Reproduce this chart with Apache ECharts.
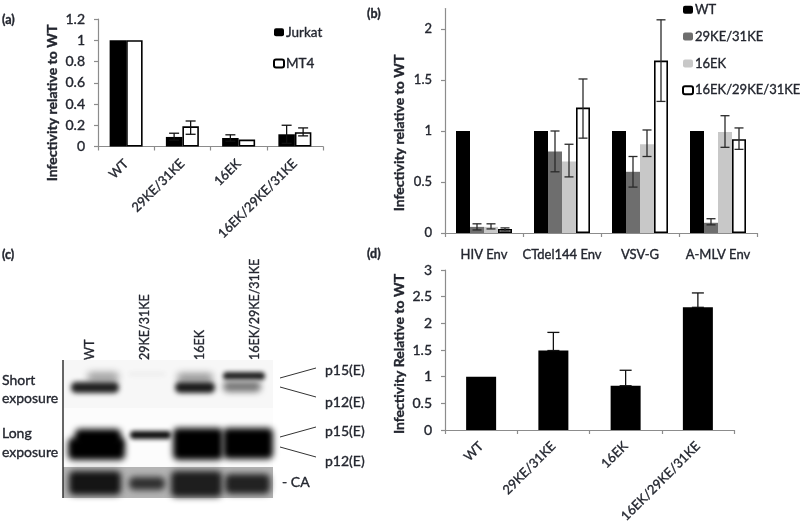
<!DOCTYPE html>
<html><head><meta charset="utf-8">
<style>html,body{margin:0;padding:0;background:#fff}#c{width:800px;height:524px;filter:blur(0.35px)}</style>
<script src="https://cdn.jsdelivr.net/npm/echarts@6/dist/echarts.min.js"></script>
</head><body><div id="c"></div>
<script>
const catsA = ['WT','29KE/31KE','16EK','16EK/29KE/31KE'];
const jurkat = [1,0.09,0.08,0.115];
const jurkatErr = [null,[0.06,0.125],[0.05,0.11],[0.03,0.2]];
const mt4 = [1,0.19,0.065,0.135];
const mt4Err = [null,[0.115,0.24],null,[0.1,0.175]];

const catsB = ['HIV Env','CTdel144 Env','VSV-G','A-MLV Env'];
const wtB = [1,1,1,1];
const ke2931B = [0.06,0.8,0.6,0.1];
const ke2931BErr = [[0.03,0.09],[0.6,1.0],[0.45,0.75],[0.08,0.14]];
const ek16B = [0.06,0.7,0.87,0.99];
const ek16BErr = [[0.04,0.09],[0.55,0.87],[0.75,1.01],[0.84,1.15]];
const tripleB = [0.04,1.23,1.69,0.92];
const tripleBErr = [[0.02,0.05],[0.93,1.51],[1.29,2.09],[0.82,1.03]];

const catsD = ['WT','29KE/31KE','16EK','16EK/29KE/31KE'];
const infD = [1,1.49,0.83,2.3];
const infDErr = [null,[1.49,1.83],[0.83,1.12],[2.3,2.57]];

// Blot panels: [x0,y0,x1,y1,grey,blur] in blot-image units
const blotBackdrops = [[0,0,210,48,'#f7f7f7',0],[0,48,210,107,'#fcfcfc',0],[0,107,210,138,'#b4b4b4',0]];
const blotBands = [
 [24,12,56,22,'#a4a4a4',7],[8,22,56,33,'#222222',5],
 [66,13,102,15,'#e2e2e2',5],
 [114,13,150,22,'#999999',7],[112,22,152,33,'#1c1c1c',5],
 [160,12,202,20,'#222222',4],[160,21,198,32,'#787878',6],
 [12,69,58,88,'#000000',6],[5,78,62,100,'#000000',6],
 [67,71,108,79,'#111111',4],
 [110,68,160,100,'#000000',6],[160,68,210,99,'#000000',6],
 [6,111,58,135,'#151515',6],[66,117,102,130,'#303030',6],
 [108,111,159,137,'#1e1e1e',6],[162,114,207,134,'#222222',6]
];

const FONT='Lato, "Open Sans", sans-serif', TXT='#23262f', AX='#8c8c8c', SW=0.35;
const fmt=v=>String(v);

function grid(l,t,w,h){return {left:l,top:t,width:w,height:h,containLabel:false,outerBoundsMode:'none'};}
function xAx(i,cats,rot,size,margin){return {type:'category',gridIndex:i,data:cats,
  axisLine:{lineStyle:{color:AX,width:1.2}},axisTick:{show:true,length:4,lineStyle:{color:AX,width:1.2}},
  axisLabel:{interval:0,rotate:rot,fontFamily:FONT,fontSize:size,color:TXT,margin:margin,textBorderColor:TXT,textBorderWidth:SW}};}
function yAx(i,max,step,size,hideMax){return {type:'value',gridIndex:i,min:0,max:max,interval:step,
  axisLine:{show:true,lineStyle:{color:AX,width:1.2}},axisTick:{show:true,length:4,lineStyle:{color:AX,width:1.2}},
  splitLine:{show:false},
  axisLabel:{fontFamily:FONT,fontSize:size,color:TXT,margin:13,showMaxLabel:!hideMax,formatter:fmt,textBorderColor:TXT,textBorderWidth:SW}};}

function bar(name,i,data,color,w,border){return {type:'bar',name:name,xAxisIndex:i,yAxisIndex:i,data:data,barWidth:w,barGap:'0%',
  itemStyle:{color:color,borderColor:border?'#000':color,borderWidth:border?1.6:0},silent:true,animation:false};}
function err(i,ranges,offset,cap,color){return {type:'custom',name:'err'+i+offset,xAxisIndex:i,yAxisIndex:i,z:5,silent:true,animation:false,
  data:ranges.map((r,k)=>r?[k,r[0],r[1]]:null).filter(Boolean),
  encode:{x:0,y:[1,2]},
  renderItem(p,api){const a=api.coord([api.value(0),api.value(1)]),b=api.coord([api.value(0),api.value(2)]);const x=a[0]+offset;
    const st={stroke:color,lineWidth:1.3,fill:null};
    return {type:'group',children:[
      {type:'line',shape:{x1:x,y1:a[1],x2:x,y2:b[1]},style:st},
      {type:'line',shape:{x1:x-cap,y1:a[1],x2:x+cap,y2:a[1]},style:st},
      {type:'line',shape:{x1:x-cap,y1:b[1],x2:x+cap,y2:b[1]},style:st}]};}};}

const OFF=2000; // soft bands: only the blurred shadow lands on the canvas
function blot(name,rows,z){return {type:'custom',name:name,xAxisIndex:3,yAxisIndex:3,z:z,silent:true,animation:false,clip:false,
  data:rows.map((r,k)=>[r[0],r[1],r[2],r[3],k]),encode:{x:[0,2],y:[1,3]},
  renderItem(p,api){const a=api.coord([api.value(0),api.value(1)]),b=api.coord([api.value(2),api.value(3)]);const r=rows[api.value(4)];
    if(!r[5]) return {type:'rect',shape:{x:a[0],y:a[1],width:b[0]-a[0],height:b[1]-a[1]},style:{fill:r[4]}};
    return {type:'rect',shape:{x:a[0]-OFF,y:a[1],width:b[0]-a[0],height:b[1]-a[1],r:5},
      style:{fill:r[4],shadowBlur:r[5],shadowColor:r[4],shadowOffsetX:OFF*(window.devicePixelRatio||1)}};}};}

function t(x,y,text,size,opt){return Object.assign({type:'text',x:x,y:y,silent:true,z:20,
  style:{text:text,fontFamily:FONT,fontSize:size,fill:TXT,stroke:TXT,lineWidth:SW,fontWeight:(opt&&opt.w)||400,align:(opt&&opt.a)||'left',verticalAlign:'middle'}},
  opt&&opt.r?{rotation:opt.r}:{});}
function ln(x1,y1,x2,y2,c,w){return {type:'line',silent:true,z:20,shape:{x1,y1,x2,y2},style:{stroke:c||'#333',lineWidth:w||1}};}
const R=Math.PI/2;

const option={animation:false,backgroundColor:'#fff',
 grid:[grid(98,19,225,127.5),grid(445,8.6,312,224.4),grid(445,270,289,160),grid(63,360,210,138)],
 xAxis:[xAx(0,catsA,45,13,15),xAx(1,catsB,0,13,15),xAx(2,catsD,45,13,14),
   {type:'value',gridIndex:3,min:0,max:210,show:false}],
 yAxis:[yAx(0,1.2,0.2,14),yAx(1,2.2,0.5,13,true),yAx(2,3,0.5,14),
   {type:'value',gridIndex:3,min:0,max:138,inverse:true,show:false}],
 legend:[
  {data:['Jurkat','MT4'],orient:'vertical',left:268,top:20,itemWidth:10,itemHeight:8,itemGap:17,selectedMode:false,
   textStyle:{fontFamily:FONT,fontSize:13.5,color:TXT,textBorderColor:TXT,textBorderWidth:SW,padding:[0,0,0,-3]}},
  {data:['WT','29KE/31KE','16EK','16EK/29KE/31KE'],orient:'vertical',left:677,top:-2,itemWidth:10,itemHeight:8,itemGap:13.5,selectedMode:false,
   textStyle:{fontFamily:FONT,fontSize:13,color:TXT,textBorderColor:TXT,textBorderWidth:SW,padding:[0,0,0,-3]}}],
 series:[
  bar('Jurkat',0,jurkat,'#000',16.5),bar('MT4',0,mt4,'#fff',16.5,true),
  err(0,jurkatErr,-8.25,5,'#111'),err(0,mt4Err,8.25,5,'#111'),
  bar('WT',1,wtB,'#000',14),bar('29KE/31KE',1,ke2931B,'#6e6e6e',14),bar('16EK',1,ek16B,'#c8c8c8',14),bar('16EK/29KE/31KE',1,tripleB,'#fff',14,true),
  err(1,ke2931BErr,-7,4.5,'#2a2a2a'),err(1,ek16BErr,7,4.5,'#2a2a2a'),err(1,tripleBErr,21,4.5,'#2a2a2a'),
  bar('Infectivity',2,infD,'#000',30),
  err(2,infDErr,0,6,'#111'),
  blot('blotBack',blotBackdrops,1),blot('blotBands',blotBands,2)
 ],
 graphic:{elements:[
  t(2,20,'(a)',12.5,{w:700}),t(367,14,'(b)',12.5,{w:700}),t(2,255,'(c)',12.5,{w:700}),t(367,254,'(d)',12.5,{w:700}),
  t(52,103,'Infectivity relative to WT',14,{w:700,a:'center',r:R}),
  t(399,133,'Infectivity relative to WT',14,{w:700,a:'center',r:R}),
  t(399,354,'Infectivity Relative to WT',14,{w:700,a:'center',r:R}),
  t(90,360,'WT',12.5,{r:R}),t(145,360,'29KE/31KE',12.5,{r:R}),t(200,360,'16EK',12.5,{r:R}),t(255,360,'16EK/29KE/31KE',12.5,{r:R}),
  t(2,380,'Short',14),t(2,398,'exposure',14),t(2,433,'Long',14),t(2,452,'exposure',14),
  t(325,370,'p15(E)',14),t(325,402,'p12(E)',14),t(325,431,'p15(E)',14),t(325,461,'p12(E)',14),t(282,482,'- CA',14),
  ln(280,378,316,368),ln(280,387,316,397),ln(280,437,316,427),ln(280,447,316,457),
  ln(63,360,63,498,'#333',1.5)
 ]}
};
echarts.init(document.getElementById('c'),null,{renderer:'canvas'}).setOption(option);
</script></body></html>
